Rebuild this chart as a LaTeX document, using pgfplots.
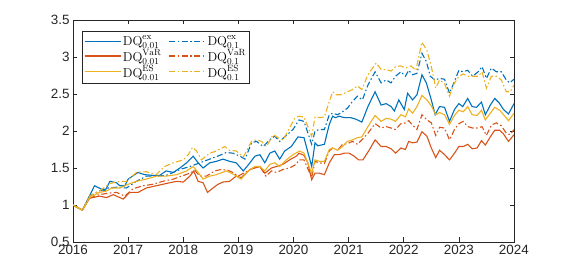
\RequirePackage{fix-cm}
\documentclass[border=0pt]{standalone}
\usepackage{fontspec}
\setsansfont{Liberation Sans}
\usepackage{pgfplots}
\pgfplotsset{compat=1.18}
\definecolor{mblue}{rgb}{0,0.447,0.741}
\definecolor{mred}{rgb}{0.850,0.325,0.098}
\definecolor{myel}{rgb}{0.929,0.694,0.125}
\definecolor{axgray}{rgb}{0.15,0.15,0.15}
\newcommand{\tickfont}{\fontsize{13.5}{15}\selectfont\sffamily}
\newcommand{\legfont}{\fontsize{13}{15}\selectfont}
\tikzset{dashdot/.style={dash pattern=on 6bp off 2.5bp on 1.5bp off 2.5bp}}
\begin{document}
\begin{tikzpicture}
\path (0,0) rectangle (568bp,273bp);
\begin{axis}[
  at={(73bp,31bp)}, anchor=south west,
  scale only axis, width=441bp, height=222bp,
  xmin=2016, xmax=2024, ymin=0.5, ymax=3.5,
  xtick={2016,2017,...,2024},
  ytick={0.5,1,1.5,2,2.5,3,3.5},
  tick align=inside, major tick length=4.5bp,
  axis line style={axgray, line width=0.5bp},
  tick style={axgray, line width=0.5bp},
  tick label style={font=\tickfont, text=axgray},
  /pgf/number format/assume math mode=true,
  /pgf/number format/1000 sep={},
  legend columns=2,
  legend cell align=left,
  legend style={at={(axis description cs:0,1)}, anchor=north west, xshift=9bp, yshift=-11bp,
    draw=axgray, line width=0.5bp, font=\legfont,
    nodes={font=\legfont, inner sep=1.5bp},
    inner xsep=2bp, inner ysep=3bp, row sep=-1bp,
    /tikz/every even column/.append style={column sep=6bp}},
  legend image code/.code={\draw[#1] (0cm,0cm) -- (1.27cm,0cm);},
  every axis plot/.append style={line width=1.1bp},
]
\addplot[mblue] coordinates {
(2016.00,1.00)(2016.17,0.93)(2016.39,1.26)(2016.42,1.25)(2016.58,1.19)(2016.67,1.32)(2016.79,1.30)(2016.85,1.26)(2016.94,1.26)(2017.00,1.35)(2017.18,1.44)(2017.30,1.41)(2017.45,1.40)(2017.57,1.40)(2017.69,1.46)(2017.82,1.44)(2017.94,1.50)(2018.06,1.57)(2018.18,1.66)(2018.27,1.57)(2018.36,1.50)(2018.48,1.57)(2018.60,1.59)(2018.72,1.62)(2018.84,1.59)(2018.96,1.57)(2019.09,1.46)(2019.21,1.57)(2019.30,1.66)(2019.39,1.68)(2019.48,1.57)(2019.57,1.70)(2019.66,1.73)(2019.75,1.62)(2019.84,1.73)(2019.96,1.79)(2020.08,1.92)(2020.19,1.91)(2020.33,1.52)(2020.39,1.84)(2020.44,1.80)(2020.56,1.82)(2020.65,2.09)(2020.71,2.20)(2020.76,2.18)(2020.83,2.20)(2020.92,2.18)(2021.04,2.18)(2021.13,2.16)(2021.24,2.12)(2021.35,2.33)(2021.48,2.53)(2021.59,2.35)(2021.68,2.37)(2021.77,2.33)(2021.83,2.27)(2021.91,2.42)(2022.01,2.29)(2022.07,2.51)(2022.16,2.42)(2022.24,2.49)(2022.33,2.76)(2022.41,2.65)(2022.50,2.42)(2022.57,2.22)(2022.65,2.33)(2022.74,2.32)(2022.83,2.13)(2022.92,2.29)(2023.00,2.37)(2023.07,2.33)(2023.16,2.44)(2023.24,2.33)(2023.32,2.32)(2023.41,2.39)(2023.48,2.22)(2023.57,2.35)(2023.65,2.44)(2023.73,2.38)(2023.81,2.29)(2023.90,2.23)(2024.00,2.37)};
\addlegendentry{$\mathrm{DQ}^{\mathrm{ex}}_{0.01}$}
\addplot[mblue, dashdot] coordinates {
(2016.00,1.00)(2016.17,0.93)(2016.30,1.12)(2016.48,1.19)(2016.64,1.23)(2016.79,1.24)(2016.97,1.23)(2017.15,1.32)(2017.33,1.39)(2017.51,1.39)(2017.69,1.40)(2017.82,1.44)(2017.94,1.48)(2018.12,1.52)(2018.30,1.57)(2018.48,1.62)(2018.66,1.67)(2018.78,1.71)(2018.90,1.70)(2019.03,1.66)(2019.12,1.62)(2019.24,1.84)(2019.33,1.86)(2019.45,1.79)(2019.57,1.88)(2019.66,1.93)(2019.75,1.86)(2019.87,1.94)(2019.99,2.02)(2020.10,2.15)(2020.19,2.13)(2020.33,1.82)(2020.39,2.00)(2020.47,2.02)(2020.56,2.02)(2020.65,2.22)(2020.71,2.24)(2020.80,2.22)(2020.89,2.26)(2020.98,2.31)(2021.07,2.40)(2021.16,2.47)(2021.25,2.42)(2021.35,2.62)(2021.48,2.80)(2021.59,2.65)(2021.68,2.69)(2021.77,2.65)(2021.85,2.74)(2021.95,2.80)(2022.03,2.74)(2022.09,2.82)(2022.16,2.76)(2022.24,2.78)(2022.33,3.05)(2022.41,2.94)(2022.48,2.74)(2022.57,2.69)(2022.65,2.71)(2022.74,2.70)(2022.83,2.51)(2022.92,2.67)(2023.00,2.82)(2023.07,2.80)(2023.16,2.82)(2023.25,2.74)(2023.35,2.80)(2023.42,2.87)(2023.50,2.71)(2023.59,2.85)(2023.68,2.80)(2023.77,2.80)(2023.86,2.69)(2023.92,2.65)(2024.00,2.70)};
\addlegendentry{$\mathrm{DQ}^{\mathrm{ex}}_{0.1}$}
\addplot[mred] coordinates {
(2016.00,1.00)(2016.17,0.93)(2016.30,1.09)(2016.48,1.12)(2016.61,1.10)(2016.73,1.14)(2016.82,1.11)(2016.91,1.08)(2017.03,1.17)(2017.18,1.17)(2017.33,1.23)(2017.51,1.26)(2017.69,1.29)(2017.88,1.32)(2018.00,1.31)(2018.12,1.39)(2018.19,1.46)(2018.27,1.32)(2018.36,1.30)(2018.44,1.17)(2018.54,1.23)(2018.63,1.28)(2018.72,1.31)(2018.84,1.32)(2018.96,1.39)(2019.05,1.37)(2019.21,1.48)(2019.30,1.50)(2019.39,1.52)(2019.48,1.43)(2019.60,1.50)(2019.69,1.52)(2019.81,1.55)(2019.93,1.61)(2020.05,1.66)(2020.10,1.70)(2020.19,1.67)(2020.26,1.57)(2020.33,1.34)(2020.39,1.43)(2020.47,1.43)(2020.56,1.41)(2020.65,1.57)(2020.74,1.68)(2020.83,1.68)(2020.92,1.70)(2021.01,1.70)(2021.10,1.66)(2021.18,1.61)(2021.26,1.61)(2021.38,1.75)(2021.48,1.88)(2021.59,1.79)(2021.68,1.79)(2021.77,1.76)(2021.85,1.70)(2021.95,1.77)(2022.03,1.75)(2022.09,1.86)(2022.16,1.84)(2022.24,1.85)(2022.33,1.99)(2022.42,1.93)(2022.50,1.77)(2022.58,1.64)(2022.65,1.74)(2022.74,1.68)(2022.83,1.61)(2022.92,1.70)(2023.00,1.79)(2023.08,1.79)(2023.16,1.82)(2023.24,1.76)(2023.33,1.77)(2023.41,1.87)(2023.48,1.81)(2023.57,1.92)(2023.65,2.01)(2023.74,2.01)(2023.81,1.96)(2023.90,1.86)(2024.00,1.95)};
\addlegendentry{$\mathrm{DQ}^{\mathrm{VaR}}_{0.01}$}
\addplot[mred, dashdot] coordinates {
(2016.00,1.00)(2016.17,0.93)(2016.30,1.10)(2016.48,1.14)(2016.64,1.16)(2016.79,1.17)(2016.94,1.12)(2017.09,1.22)(2017.27,1.26)(2017.45,1.28)(2017.63,1.32)(2017.82,1.35)(2017.97,1.39)(2018.12,1.43)(2018.21,1.47)(2018.30,1.39)(2018.42,1.39)(2018.57,1.46)(2018.69,1.48)(2018.81,1.47)(2018.90,1.44)(2018.99,1.39)(2019.12,1.44)(2019.27,1.50)(2019.39,1.52)(2019.50,1.39)(2019.60,1.46)(2019.69,1.44)(2019.81,1.48)(2019.93,1.50)(2020.05,1.55)(2020.10,1.61)(2020.19,1.61)(2020.33,1.37)(2020.39,1.59)(2020.47,1.57)(2020.56,1.56)(2020.65,1.73)(2020.71,1.77)(2020.80,1.74)(2020.89,1.82)(2020.98,1.83)(2021.07,1.86)(2021.16,1.82)(2021.24,1.88)(2021.35,1.97)(2021.48,2.10)(2021.59,2.04)(2021.68,2.06)(2021.77,2.04)(2021.85,2.02)(2021.95,2.10)(2022.03,2.11)(2022.09,2.14)(2022.16,2.08)(2022.24,2.02)(2022.33,2.22)(2022.42,2.15)(2022.50,2.11)(2022.58,1.94)(2022.65,2.05)(2022.74,2.04)(2022.83,1.88)(2022.92,2.02)(2023.00,2.10)(2023.08,2.13)(2023.16,2.06)(2023.25,2.04)(2023.35,2.04)(2023.42,2.06)(2023.50,1.94)(2023.59,2.08)(2023.68,2.11)(2023.77,2.07)(2023.86,1.97)(2023.93,1.95)(2024.00,2.02)};
\addlegendentry{$\mathrm{DQ}^{\mathrm{VaR}}_{0.1}$}
\addplot[myel] coordinates {
(2016.00,1.00)(2016.17,0.93)(2016.30,1.10)(2016.48,1.17)(2016.61,1.19)(2016.70,1.23)(2016.85,1.23)(2017.00,1.28)(2017.15,1.32)(2017.33,1.35)(2017.51,1.39)(2017.69,1.39)(2017.88,1.41)(2018.06,1.46)(2018.18,1.52)(2018.27,1.44)(2018.36,1.35)(2018.48,1.39)(2018.60,1.41)(2018.78,1.46)(2018.90,1.42)(2019.05,1.35)(2019.18,1.46)(2019.30,1.52)(2019.39,1.52)(2019.48,1.46)(2019.57,1.55)(2019.66,1.57)(2019.75,1.52)(2019.87,1.61)(2019.99,1.68)(2020.11,1.73)(2020.19,1.70)(2020.33,1.43)(2020.39,1.61)(2020.47,1.59)(2020.56,1.59)(2020.65,1.75)(2020.71,1.77)(2020.80,1.74)(2020.89,1.79)(2020.98,1.86)(2021.07,1.88)(2021.16,1.91)(2021.24,1.92)(2021.35,2.06)(2021.48,2.21)(2021.59,2.13)(2021.68,2.17)(2021.77,2.16)(2021.85,2.13)(2021.95,2.22)(2022.03,2.19)(2022.09,2.30)(2022.16,2.24)(2022.24,2.33)(2022.33,2.48)(2022.42,2.42)(2022.50,2.34)(2022.58,2.22)(2022.65,2.25)(2022.74,2.22)(2022.83,2.09)(2022.92,2.21)(2023.00,2.28)(2023.08,2.26)(2023.16,2.33)(2023.24,2.22)(2023.33,2.21)(2023.41,2.28)(2023.48,2.15)(2023.57,2.24)(2023.65,2.32)(2023.74,2.28)(2023.81,2.22)(2023.90,2.14)(2024.00,2.24)};
\addlegendentry{$\mathrm{DQ}^{\mathrm{ES}}_{0.01}$}
\addplot[myel, dashdot] coordinates {
(2016.00,1.00)(2016.17,0.93)(2016.30,1.12)(2016.48,1.19)(2016.67,1.29)(2016.85,1.32)(2016.97,1.32)(2017.15,1.44)(2017.33,1.45)(2017.51,1.41)(2017.66,1.52)(2017.82,1.57)(2018.00,1.61)(2018.09,1.68)(2018.17,1.78)(2018.24,1.73)(2018.33,1.61)(2018.48,1.70)(2018.60,1.73)(2018.75,1.79)(2018.84,1.74)(2018.96,1.73)(2019.09,1.65)(2019.24,1.86)(2019.33,1.88)(2019.42,1.86)(2019.51,1.79)(2019.63,1.95)(2019.72,1.91)(2019.81,1.88)(2019.93,2.04)(2020.02,2.17)(2020.10,2.20)(2020.19,2.19)(2020.33,1.93)(2020.39,2.19)(2020.50,2.18)(2020.56,2.19)(2020.65,2.40)(2020.71,2.53)(2020.78,2.49)(2020.86,2.49)(2020.98,2.53)(2021.07,2.56)(2021.16,2.61)(2021.24,2.56)(2021.35,2.76)(2021.50,2.92)(2021.59,2.83)(2021.68,2.83)(2021.77,2.81)(2021.85,2.87)(2021.95,2.88)(2022.03,2.85)(2022.13,2.88)(2022.22,2.82)(2022.33,3.20)(2022.42,3.09)(2022.50,2.87)(2022.58,2.58)(2022.65,2.69)(2022.74,2.64)(2022.83,2.47)(2022.90,2.62)(2023.00,2.74)(2023.08,2.77)(2023.16,2.74)(2023.25,2.74)(2023.35,2.74)(2023.42,2.80)(2023.50,2.58)(2023.59,2.74)(2023.68,2.74)(2023.77,2.69)(2023.86,2.53)(2023.93,2.53)(2024.00,2.62)};
\addlegendentry{$\mathrm{DQ}^{\mathrm{ES}}_{0.1}$}
\end{axis}
\end{tikzpicture}
\end{document}
